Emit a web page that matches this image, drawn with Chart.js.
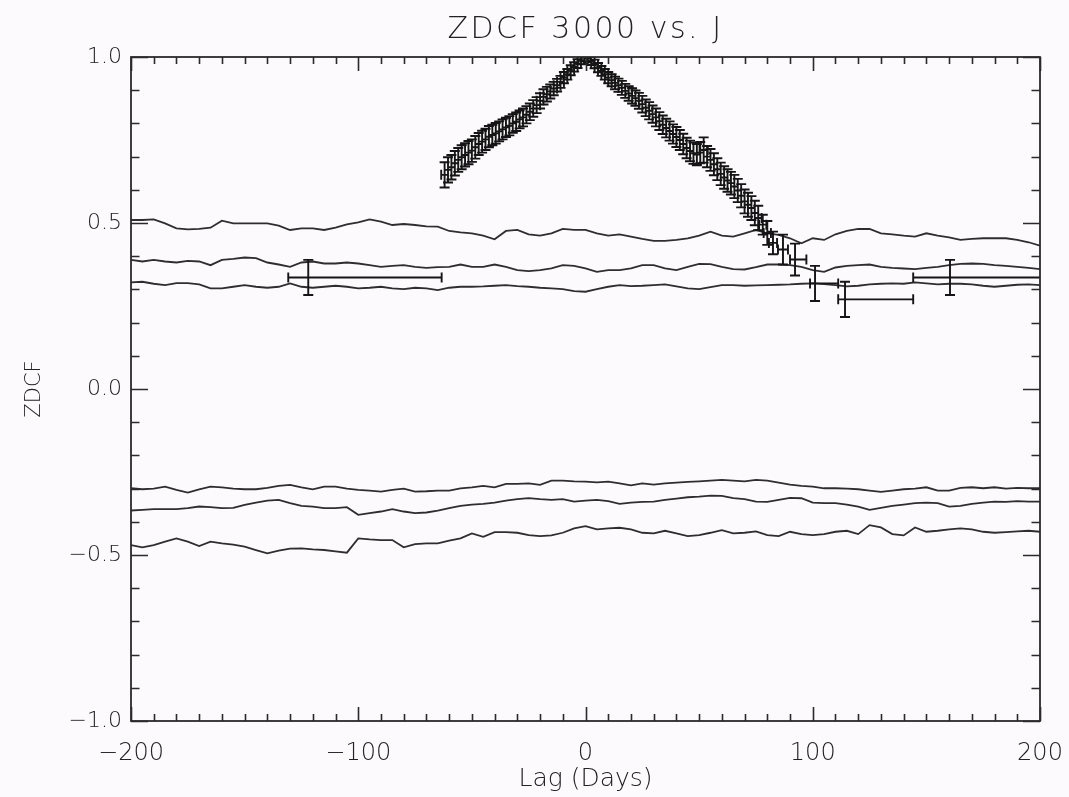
<!DOCTYPE html>
<html>
<head>
<meta charset="utf-8">
<script src="https://cdn.jsdelivr.net/npm/chart.js@4.4.0/dist/chart.umd.min.js"></script>
<style>
  html, body { margin: 0; padding: 0; background: #fdfafd; }
  #wrap { width: 1069px; height: 797px; }
</style>
</head>
<body>
<div id="wrap"><canvas id="c" width="1069" height="797"></canvas></div>
<script>
// ---------------- DATA ----------------
const chartTitle = 'ZDCF 3000 vs. J';
const xAxisTitle = 'Lag (Days)';
const yAxisTitle = 'ZDCF';

const xTickValues = [-200, -100, 0, 100, 200];
const xTickLabels = ['\u2212200', '\u2212100', '0', '100', '200'];
const yTickValues = [-1, -0.5, 0, 0.5, 1];
const yTickLabels = ['\u22121.0', '\u22120.5', '0.0', '0.5', '1.0'];

// lag grid of the significance curves (days)
const curveLags = [
  -200,-195,-190,-185,-180,-175,-170,-165,-160,-155,-150,-145,-140,-135,-130,-125,-120,-115,-110,-105,
  -100,-95,-90,-85,-80,-75,-70,-65,-60,-55,-50,-45,-40,-35,-30,-25,-20,-15,-10,-5,
  0,5,10,15,20,25,30,35,40,45,50,55,60,65,70,75,80,85,90,95,
  100,105,110,115,120,125,130,135,140,145,150,155,160,165,170,175,180,185,190,195,200
];

const upperOuter = [
  0.509,0.509,0.511,0.499,0.484,0.481,0.482,0.486,0.507,0.499,
  0.499,0.499,0.499,0.492,0.479,0.484,0.484,0.479,0.486,0.496,
  0.502,0.511,0.504,0.494,0.497,0.494,0.490,0.489,0.476,0.472,
  0.469,0.462,0.451,0.476,0.479,0.466,0.462,0.469,0.482,0.479,
  0.479,
  0.469,0.462,0.466,0.459,0.452,0.446,0.446,0.449,0.454,0.462,
  0.474,0.462,0.459,0.469,0.479,0.469,0.464,0.454,0.439,0.454,
  0.449,0.466,0.476,0.482,0.482,0.469,0.466,0.462,0.459,0.469,
  0.462,0.457,0.449,0.452,0.454,0.454,0.454,0.449,0.442,0.432
];
const upperMiddle = [
  0.389,0.384,0.389,0.384,0.381,0.386,0.384,0.373,0.389,0.392,
  0.396,0.394,0.381,0.375,0.368,0.381,0.384,0.378,0.378,0.381,
  0.378,0.373,0.368,0.371,0.373,0.368,0.365,0.367,0.368,0.375,
  0.368,0.368,0.375,0.368,0.358,0.355,0.358,0.363,0.373,0.371,
  0.363,
  0.353,0.358,0.358,0.363,0.373,0.373,0.363,0.358,0.368,0.377,
  0.376,0.368,0.361,0.360,0.367,0.375,0.375,0.373,0.368,0.358,
  0.353,0.366,0.371,0.373,0.375,0.368,0.365,0.363,0.361,0.365,
  0.368,0.373,0.377,0.378,0.377,0.373,0.371,0.368,0.365,0.361
];
const upperInner = [
  0.321,0.323,0.317,0.313,0.319,0.319,0.315,0.303,0.303,0.308,
  0.313,0.308,0.305,0.308,0.318,0.308,0.305,0.308,0.311,0.308,
  0.303,0.305,0.308,0.303,0.301,0.305,0.303,0.298,0.305,0.308,
  0.308,0.309,0.311,0.313,0.310,0.308,0.305,0.303,0.301,0.295,
  0.293,
  0.301,0.308,0.313,0.310,0.311,0.313,0.315,0.309,0.303,0.301,
  0.307,0.313,0.313,0.311,0.312,0.313,0.314,0.315,0.317,0.318,
  0.316,0.313,0.309,0.311,0.315,0.317,0.318,0.317,0.321,0.318,
  0.315,0.317,0.317,0.315,0.311,0.308,0.311,0.314,0.315,0.313
];
const lowerInner = [
  -0.299,-0.302,-0.300,-0.294,-0.304,-0.312,-0.302,-0.294,-0.296,-0.300,
  -0.302,-0.302,-0.298,-0.292,-0.289,-0.296,-0.302,-0.294,-0.294,-0.300,
  -0.304,-0.306,-0.309,-0.304,-0.300,-0.309,-0.308,-0.306,-0.306,-0.299,
  -0.296,-0.292,-0.296,-0.286,-0.286,-0.284,-0.289,-0.276,-0.276,-0.278,
  -0.279,
  -0.281,-0.279,-0.284,-0.290,-0.284,-0.288,-0.284,-0.282,-0.280,-0.278,
  -0.276,-0.274,-0.276,-0.278,-0.274,-0.276,-0.282,-0.288,-0.292,-0.294,
  -0.299,-0.299,-0.300,-0.302,-0.306,-0.310,-0.306,-0.302,-0.300,-0.296,
  -0.306,-0.306,-0.298,-0.296,-0.299,-0.296,-0.300,-0.298,-0.299,-0.299
];
const lowerMiddle = [
  -0.366,-0.364,-0.362,-0.362,-0.362,-0.359,-0.354,-0.356,-0.359,-0.358,
  -0.349,-0.342,-0.336,-0.334,-0.344,-0.352,-0.354,-0.359,-0.359,-0.356,
  -0.379,-0.374,-0.369,-0.362,-0.369,-0.374,-0.372,-0.366,-0.359,-0.352,
  -0.348,-0.346,-0.342,-0.336,-0.332,-0.329,-0.332,-0.334,-0.332,-0.339,
  -0.336,
  -0.334,-0.338,-0.346,-0.342,-0.340,-0.339,-0.334,-0.330,-0.326,-0.324,
  -0.321,-0.322,-0.329,-0.332,-0.339,-0.340,-0.334,-0.328,-0.329,-0.342,
  -0.344,-0.344,-0.348,-0.354,-0.364,-0.358,-0.352,-0.348,-0.344,-0.342,
  -0.344,-0.354,-0.352,-0.346,-0.342,-0.339,-0.340,-0.338,-0.339,-0.339
];
const lowerOuter = [
  -0.470,-0.477,-0.470,-0.460,-0.450,-0.460,-0.473,-0.460,-0.465,-0.469,
  -0.475,-0.485,-0.495,-0.487,-0.481,-0.480,-0.483,-0.485,-0.489,-0.493,
  -0.450,-0.453,-0.455,-0.455,-0.477,-0.467,-0.465,-0.465,-0.457,-0.450,
  -0.435,-0.445,-0.431,-0.431,-0.433,-0.440,-0.443,-0.441,-0.433,-0.420,
  -0.413,
  -0.423,-0.420,-0.418,-0.423,-0.433,-0.435,-0.427,-0.435,-0.443,-0.440,
  -0.433,-0.425,-0.435,-0.433,-0.429,-0.440,-0.443,-0.430,-0.437,-0.440,
  -0.437,-0.430,-0.427,-0.437,-0.410,-0.417,-0.437,-0.441,-0.417,-0.430,
  -0.427,-0.423,-0.420,-0.423,-0.430,-0.433,-0.431,-0.429,-0.427,-0.430
];

// ZDCF points (lag, value) with asymmetric lag errors and value errors
const zdcfLag = [
  -122.0,
  -62.0,-60.5,-59.0,-57.5,-56.0,-54.5,-53.0,-51.5,-50.0,-48.5,-47.0,-45.5,-44.0,-42.5,-41.0,-39.5,
  -38.0,-36.5,-35.0,-33.5,-32.0,-30.5,-29.0,-27.5,-26.0,-24.5,-23.0,-21.5,-20.0,-18.5,-17.0,-15.5,
  -14.0,-12.5,-11.0,-9.5,-8.0,-6.5,-5.0,-3.5,-2.0,-0.5,
  1.0,2.5,4.0,5.5,7.0,8.5,10.0,11.5,13.0,14.5,16.0,17.5,19.0,20.5,22.0,23.5,25.0,26.5,28.0,29.5,
  31.0,32.5,34.0,35.5,37.0,38.5,40.0,41.5,43.0,44.5,46.0,47.5,49.0,50.5,52.0,53.5,55.0,56.5,58.0,
  59.5,61.0,62.5,64.0,65.5,67.0,68.5,70.0,71.5,73.0,74.5,76.0,78.0,80.0,82.5,86.9,92.2,
  101.0,114.2,160.4
];
const zdcfValue = [
  0.336,
  0.645,0.660,0.668,0.680,0.690,0.698,0.705,0.712,0.718,0.728,0.738,0.745,0.752,0.760,0.765,0.770,
  0.776,0.782,0.788,0.793,0.800,0.805,0.812,0.818,0.826,0.835,0.845,0.855,0.868,0.880,0.888,0.896,
  0.905,0.915,0.925,0.938,0.948,0.960,0.970,0.980,0.990,0.998,
  0.995,0.988,0.979,0.968,0.958,0.948,0.938,0.930,0.922,0.915,0.907,0.898,0.890,0.883,0.876,0.868,0.858,0.847,0.838,0.828,
  0.818,0.807,0.796,0.786,0.777,0.768,0.759,0.750,0.738,0.726,0.717,0.710,0.706,0.712,0.720,0.700,0.690,0.677,0.662,
  0.648,0.637,0.628,0.620,0.610,0.598,0.582,0.565,0.555,0.545,0.530,0.515,0.495,0.470,0.440,0.420,0.390,
  0.318,0.270,0.336
];
const zdcfErr = [
  0.053,
  0.038,0.038,0.037,0.037,0.036,0.036,0.035,0.035,0.034,0.034,0.033,0.033,0.032,0.032,0.031,0.031,
  0.030,0.030,0.029,0.029,0.028,0.028,0.027,0.027,0.026,0.025,0.025,0.024,0.023,0.023,0.022,0.021,
  0.020,0.019,0.018,0.017,0.016,0.015,0.014,0.013,0.012,0.011,
  0.011,0.012,0.013,0.014,0.015,0.016,0.017,0.018,0.019,0.020,0.021,0.021,0.022,0.023,0.023,0.024,0.025,0.025,0.026,0.026,
  0.027,0.027,0.028,0.028,0.029,0.029,0.030,0.030,0.031,0.031,0.031,0.032,0.032,0.032,0.038,0.032,0.033,0.033,0.033,
  0.034,0.034,0.034,0.034,0.035,0.035,0.035,0.036,0.036,0.036,0.037,0.037,0.030,0.036,0.034,0.045,0.048,
  0.053,0.053,0.053
];
const zdcfLagErrLo = [
  8.8,
  1.5,1.5,1.5,1.5,1.5,1.5,1.5,1.5,1.5,1.5,1.5,1.5,1.5,1.5,1.5,1.5,
  1.5,1.5,1.5,1.5,1.5,1.5,1.5,1.5,1.5,1.5,1.5,1.5,1.5,1.5,1.5,1.5,
  1.5,1.5,1.5,1.5,1.5,1.5,1.5,1.5,1.5,1.5,
  1.5,1.5,1.5,1.5,1.5,1.5,1.5,1.5,1.5,1.5,1.5,1.5,1.5,1.5,1.5,1.5,1.5,1.5,1.5,1.5,
  1.5,1.5,1.5,1.5,1.5,1.5,1.5,1.5,1.5,1.5,1.5,1.5,1.5,1.5,1.8,1.5,1.5,1.5,1.5,
  1.5,1.5,1.5,1.5,1.5,1.5,1.5,1.5,1.5,1.5,1.5,1.5,1.6,1.6,1.8,2.2,2.2,
  2.2,3.0,16.2
];
const zdcfLagErrHi = [
  58.7,
  1.5,1.5,1.5,1.5,1.5,1.5,1.5,1.5,1.5,1.5,1.5,1.5,1.5,1.5,1.5,1.5,
  1.5,1.5,1.5,1.5,1.5,1.5,1.5,1.5,1.5,1.5,1.5,1.5,1.5,1.5,1.5,1.5,
  1.5,1.5,1.5,1.5,1.5,1.5,1.5,1.5,1.5,1.5,
  1.5,1.5,1.5,1.5,1.5,1.5,1.5,1.5,1.5,1.5,1.5,1.5,1.5,1.5,1.5,1.5,1.5,1.5,1.5,1.5,
  1.5,1.5,1.5,1.5,1.5,1.5,1.5,1.5,1.5,1.5,1.5,1.5,1.5,1.5,1.8,1.5,1.5,1.5,1.5,
  1.5,1.5,1.5,1.5,1.5,1.5,1.5,1.5,1.5,1.5,1.5,1.5,1.6,1.6,1.8,2.2,5.0,
  10.2,30.0,45.0
];

// ---------------- STYLE ----------------
const FONT = "'DejaVu Sans', 'Liberation Sans', sans-serif";
const INK = '#222222';
const BG = '#fdfafd';

const curves = [upperOuter, upperMiddle, upperInner, lowerInner, lowerMiddle, lowerOuter];

const datasets = curves.map((vals, k) => ({
  type: 'line',
  label: 'curve' + k,
  data: curveLags.map((x, i) => ({ x: x, y: vals[i] })),
  borderColor: '#2e2e2e',
  borderWidth: 1.8,
  pointRadius: 0,
  tension: 0,
  fill: false
}));
datasets.push({
  type: 'scatter',
  label: 'ZDCF',
  data: zdcfLag.map((x, i) => ({ x: x, y: zdcfValue[i] })),
  pointRadius: 0,
  showLine: false
});

const decorPlugin = {
  id: 'decor',
  beforeDraw(chart) {
    const ctx = chart.ctx;
    ctx.save();
    ctx.fillStyle = BG;
    ctx.fillRect(0, 0, chart.width, chart.height);
    ctx.restore();
    // wide tracking for the title (drawn in the z=0 layer)
    ctx.letterSpacing = '2.5px';
  },
  beforeDatasetsDraw(chart) {
    chart.ctx.letterSpacing = '0px';
  },
  afterDatasetsDraw(chart) {
    const { ctx, chartArea: a, scales: { x, y } } = chart;
    ctx.save();
    ctx.beginPath();
    ctx.rect(a.left, a.top, a.right - a.left, a.bottom - a.top);
    ctx.clip();
    ctx.strokeStyle = '#151515';
    ctx.lineWidth = 1.9;
    const cap = 5;
    ctx.beginPath();
    for (let i = 0; i < zdcfLag.length; i++) {
      const px = x.getPixelForValue(zdcfLag[i]);
      const py = y.getPixelForValue(zdcfValue[i]);
      const y1 = y.getPixelForValue(zdcfValue[i] + zdcfErr[i]);
      const y2 = y.getPixelForValue(zdcfValue[i] - zdcfErr[i]);
      const x1 = x.getPixelForValue(zdcfLag[i] - zdcfLagErrLo[i]);
      const x2 = x.getPixelForValue(zdcfLag[i] + zdcfLagErrHi[i]);
      ctx.moveTo(px, y1); ctx.lineTo(px, y2);
      ctx.moveTo(px - cap, y1); ctx.lineTo(px + cap, y1);
      ctx.moveTo(px - cap, y2); ctx.lineTo(px + cap, y2);
      ctx.moveTo(x1, py); ctx.lineTo(x2, py);
      ctx.moveTo(x1, py - cap); ctx.lineTo(x1, py + cap);
      ctx.moveTo(x2, py - cap); ctx.lineTo(x2, py + cap);
    }
    ctx.stroke();
    ctx.restore();
  },
  afterDraw(chart) {
    const { ctx, chartArea: a, scales: { x, y } } = chart;
    ctx.save();
    ctx.strokeStyle = '#2a2a2a';
    ctx.lineWidth = 1.8;
    ctx.strokeRect(a.left, a.top, a.right - a.left, a.bottom - a.top);
    ctx.lineWidth = 1.6;
    ctx.beginPath();
    for (let v = x.min; v <= x.max; v += 10) {
      const px = Math.round(x.getPixelForValue(v)) + 0.5;
      const L = (v % 100 === 0) ? 14 : 7;
      ctx.moveTo(px, a.bottom); ctx.lineTo(px, a.bottom - L);
      ctx.moveTo(px, a.top); ctx.lineTo(px, a.top + L);
    }
    for (let k = -10; k <= 10; k++) {
      const py = Math.round(y.getPixelForValue(k / 10)) + 0.5;
      const L = (k % 5 === 0) ? 17 : 8.5;
      ctx.moveTo(a.left, py); ctx.lineTo(a.left + L, py);
      ctx.moveTo(a.right, py); ctx.lineTo(a.right - L, py);
    }
    ctx.stroke();
    ctx.restore();
  }
};

new Chart(document.getElementById('c'), {
  data: { datasets: datasets },
  plugins: [decorPlugin],
  options: {
    responsive: false,
    animation: false,
    events: [],
    layout: { padding: { left: 0, right: 29, top: 0, bottom: 0 } },
    plugins: {
      legend: { display: false },
      tooltip: { enabled: false },
      title: {
        display: true,
        fullSize: false,
        text: chartTitle,
        color: INK,
        font: { family: FONT, size: 30, weight: 300 },
        padding: { top: 12, bottom: 9 }
      }
    },
    scales: {
      x: {
        type: 'linear',
        min: -200, max: 200,
        grid: { display: false, drawTicks: false, z: 1 },
        border: { display: false, z: 1 },
        ticks: {
          z: 1,
          stepSize: 100,
          color: INK,
          font: { family: FONT, size: 24, weight: 300 },
          padding: 18,
          maxRotation: 0,
          callback: (v) => { const i = xTickValues.indexOf(v); return i >= 0 ? xTickLabels[i] : ''; }
        },
        title: {
          display: true, text: xAxisTitle, color: INK,
          font: { family: FONT, size: 25, weight: 300 }, padding: { top: 0, bottom: 3 }
        },
        afterFit(s) { s.height = 76; s.paddingLeft = 0; s.paddingRight = 0; }
      },
      y: {
        type: 'linear',
        min: -1, max: 1,
        grid: { display: false, drawTicks: false, z: 1 },
        border: { display: false, z: 1 },
        ticks: {
          z: 1,
          stepSize: 0.5,
          color: INK,
          font: { family: FONT, size: 22, weight: 300 },
          padding: 9,
          callback: (v) => { const i = yTickValues.findIndex(t => Math.abs(t - v) < 1e-9); return i >= 0 ? yTickLabels[i] : ''; }
        },
        title: {
          display: true, text: yAxisTitle, color: INK,
          font: { family: FONT, size: 21, weight: 300 }, padding: { top: 22, bottom: 0 }
        },
        afterFit(s) { s.width = 131; s.paddingTop = 0; s.paddingBottom = 0; }
      }
    }
  }
});
</script>
</body>
</html>
